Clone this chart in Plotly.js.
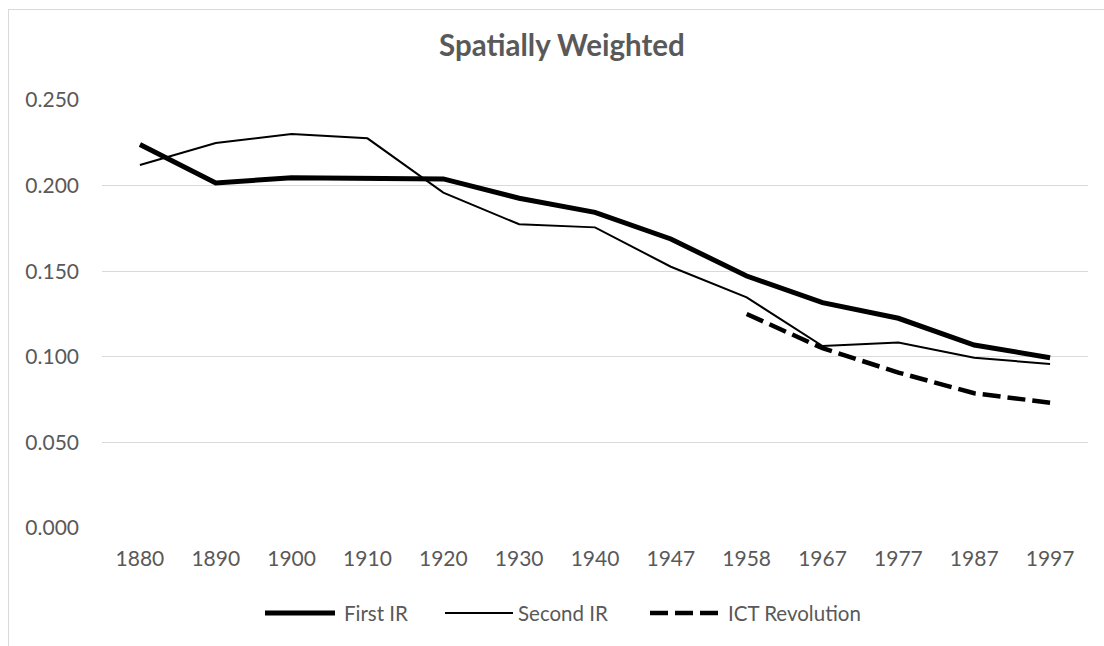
<!DOCTYPE html>
<html>
<head>
<meta charset="utf-8">
<script src="https://cdn.plot.ly/plotly-3.0.1.min.js"></script>
<style>
  html, body { margin: 0; padding: 0; background: #fff; }
  #wrap { position: relative; width: 1104px; height: 646px; overflow: hidden; }
  #chart { width: 1104px; height: 646px; }
  #frame { position: absolute; left: 8px; top: 9px; width: 1200px; height: 700px;
           border-left: 1px solid #d9d9d9; border-top: 1px solid #d9d9d9; pointer-events: none; }
</style>
</head>
<body>
<div id="wrap">
  <div id="chart"></div>
  <div id="frame"></div>
</div>
<script>
const years = ["1880","1890","1900","1910","1920","1930","1940","1947","1958","1967","1977","1987","1997"];
const firstIR  = [0.224, 0.2015, 0.2046, 0.2039, 0.2039, 0.1926, 0.1844, 0.1688, 0.1472, 0.1316, 0.1225, 0.1069, 0.0995];
const secondIR = [0.212, 0.2249, 0.2302, 0.2276, 0.1959, 0.1774, 0.1756, 0.1526, 0.1347, 0.1063, 0.1083, 0.0995, 0.0958];
const ictYears = ["1958","1967","1977","1987","1997"];
const ictRev   = [0.125, 0.105, 0.0908, 0.0787, 0.0732];
const yTicks = [0, 0.05, 0.10, 0.15, 0.20, 0.25];
const seriesNames = ["First IR", "Second IR", "ICT Revolution"];

const FONT = "Lato, 'Open Sans', sans-serif";
const GRAY = "#595959";
const W = 1104, H = 646, ML = 102, MR = 16, MT = 100, MB = 118;
const PW = W - ML - MR, PH = H - MT - MB;
const px = x => (x - ML) / PW;
const py = y => (H - MB - y) / PH;

const styles = [
  { color: "#000", width: 5 },
  { color: "#000", width: 2 },
  { color: "#000", width: 4.5, dash: "18px,7px" }
];

const traces = [
  { x: years, y: firstIR, name: seriesNames[0], type: "scatter", mode: "lines", line: styles[0] },
  { x: years, y: secondIR, name: seriesNames[1], type: "scatter", mode: "lines", line: styles[1] },
  { x: ictYears, y: ictRev, name: seriesNames[2], type: "scatter", mode: "lines", line: styles[2] }
];

// custom legend (long keys like the reference)
const legendKeys = [
  { x0: 265, x1: 335, tx: 342 },
  { x0: 445, x1: 513, tx: 516 },
  { x0: 650, x1: 718, tx: 726 }
];
const legY = 613;
const shapes = legendKeys.map((k, i) => ({
  type: "line", xref: "paper", yref: "paper",
  x0: px(k.x0), x1: px(k.x1), y0: py(legY), y1: py(legY),
  line: { color: styles[i].color, width: styles[i].width, dash: styles[i].dash || "solid" }
}));
const annotations = legendKeys.map((k, i) => ({
  xref: "paper", yref: "paper", x: px(k.tx), y: py(legY),
  xanchor: "left", yanchor: "middle", showarrow: false, text: seriesNames[i],
  font: { family: FONT, size: 20.5, color: GRAY }
}));

const layout = {
  width: W, height: H,
  margin: { l: ML, r: MR, t: MT, b: MB },
  paper_bgcolor: "#fff", plot_bgcolor: "#fff",
  font: { family: FONT, size: 21, color: GRAY },
  title: { text: "<b>Spatially Weighted</b>", font: { family: FONT, size: 29.5, color: GRAY },
           x: 0.509, xanchor: "center", y: 0.93, yanchor: "middle" },
  xaxis: { type: "category", categoryorder: "array", categoryarray: years, range: [-0.5, 12.5],
           showgrid: false, zeroline: false, showline: false, ticks: "",
           tickfont: { family: FONT, size: 21, color: GRAY }, ticklabelstandoff: 16 },
  yaxis: { range: [0, 0.25], tickvals: yTicks, tickformat: ".3f",
           showgrid: true, gridcolor: "#d9d9d9", gridwidth: 1.3, zeroline: false,
           showline: false, ticks: "", tickfont: { family: FONT, size: 21, color: GRAY },
           ticklabelstandoff: 22 },
  showlegend: false,
  shapes: shapes,
  annotations: annotations
};

Plotly.newPlot("chart", traces, layout, { displayModeBar: false, staticPlot: true });
</script>
</body>
</html>
